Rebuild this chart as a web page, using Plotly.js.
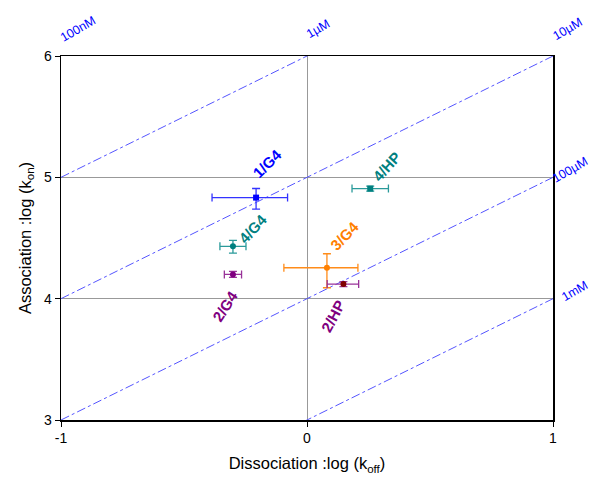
<!DOCTYPE html>
<html><head><meta charset="utf-8">
<script src="https://cdn.plot.ly/plotly-3.0.1.min.js"></script>
<style>html,body{margin:0;padding:0;background:#fff}#chart{width:593px;height:478px}</style>
</head><body><div id="chart"></div>
<script>
// Complexes
const names   = ['1/G4', '4/HP', '4/G4', '3/G4', '2/G4', '2/HP'];
const logKoff = [-0.207, 0.257, -0.301, 0.081, -0.301, 0.148];
const logKon  = [4.833, 4.907, 4.431, 4.255, 4.200, 4.120];
const xErrPlus  = [0.128, 0.074, 0.053, 0.126, 0.035, 0.062];
const xErrMinus = [0.179, 0.074, 0.053, 0.175, 0.035, 0.066];
const yErrPlus  = [0.075, 0.020, 0.050, 0.115, 0.025, 0.020];
const yErrMinus = [0.095, 0.020, 0.055, 0.165, 0.025, 0.020];
const markerColors = ['#0000ff', '#008080', '#008080', '#ff8000', '#800080', '#800000'];
const barColors    = ['#3333ff', '#2a9a9a', '#2a9a9a', '#ff8c1a', '#993399', '#993399'];
const markerSymbols = ['square', 'square', 'circle', 'circle', 'circle', 'circle'];
const labelColors = ['#0000ff', '#008080', '#008080', '#ff8000', '#800080', '#800080'];
// label positions (data coords) and angles
const labelX = [-0.161, 0.324, -0.22, 0.154, -0.333, 0.106];
const labelY = [5.11, 5.09, 4.58, 4.52, 3.933, 3.85];
const labelAngle = [-45, -48, -47, -46, -57, -62];

// iso-affinity lines: log(kon) = log(koff) + offset
const kdOffsets = [6, 5, 4, 3];
const kdLabels = ['100nM', '1\u00b5M', '10\u00b5M', '100\u00b5M', '1mM'];
const kdLabelX = [-0.93, 0.045, 1.06, 1.07, 1.09];
const kdLabelY = [6.22, 6.22, 6.22, 5.06, 4.06];

const xRange = [-1, 1], yRange = [3, 6];
const toPaperX = v => (v - xRange[0]) / (xRange[1] - xRange[0]);
const toPaperY = v => (v - yRange[0]) / (yRange[1] - yRange[0]);

const FONT = 'Arial, Liberation Sans, sans-serif';
const traces = [];
kdOffsets.forEach(c => {
  traces.push({
    x: [-1, 1], y: [-1 + c, 1 + c], mode: 'lines', type: 'scatter',
    line: {color: '#5555ff', width: 1, dash: 'dashdot'}, hoverinfo: 'skip', showlegend: false
  });
});
names.forEach((n, i) => {
  traces.push({
    x: [logKoff[i]], y: [logKon[i]], mode: 'markers', type: 'scatter', name: n, showlegend: false,
    marker: {color: markerColors[i], size: 6, symbol: markerSymbols[i]},
    error_x: {type: 'data', symmetric: false, array: [xErrPlus[i]], arrayminus: [xErrMinus[i]], color: barColors[i], thickness: 1.3, width: 4},
    error_y: {type: 'data', symmetric: false, array: [yErrPlus[i]], arrayminus: [yErrMinus[i]], color: barColors[i], thickness: 1.3, width: 4}
  });
});

const annotations = [];
names.forEach((n, i) => {
  annotations.push({x: labelX[i], y: labelY[i], xref: 'x', yref: 'y', xanchor: 'center', yanchor: 'middle',
    text: '<b>' + n + '</b>', showarrow: false,
    textangle: labelAngle[i], font: {family: FONT, size: 15, color: labelColors[i]}});
});
kdLabels.forEach((t, i) => {
  annotations.push({x: toPaperX(kdLabelX[i]), y: toPaperY(kdLabelY[i]), xref: 'paper', yref: 'paper',
    xanchor: 'center', yanchor: 'middle', text: t, showarrow: false,
    textangle: -30, font: {family: FONT, size: 12.5, color: '#0000ff'}});
});

const layout = {
  width: 593, height: 478,
  margin: {l: 61, r: 40, t: 56, b: 58},
  paper_bgcolor: '#fff', plot_bgcolor: '#fff',
  font: {family: FONT, size: 14, color: '#000'},
  xaxis: {range: xRange, tickvals: [-1, 0, 1], ticktext: ['-1', '0', '1'], showgrid: true, gridcolor: '#999', gridwidth: 1,
    zeroline: false, showline: true, linecolor: '#000', linewidth: 1.5, mirror: true, ticks: 'outside', ticklen: 5, tickcolor: '#000',
    tickfont: {size: 14},
    title: {text: 'Dissociation :log (k<sub>off</sub>)', font: {size: 16.5}, standoff: 12}},
  yaxis: {range: yRange, tickvals: [3, 4, 5, 6], showgrid: true, gridcolor: '#999', gridwidth: 1,
    zeroline: false, showline: true, linecolor: '#000', linewidth: 1.5, mirror: true, ticks: 'outside', ticklen: 5, tickcolor: '#000',
    tickfont: {size: 14},
    title: {text: 'Association :log (k<sub>on</sub>)', font: {size: 16.5}, standoff: 8}},
  annotations: annotations
};
Plotly.newPlot('chart', traces, layout, {displayModeBar: false, staticPlot: true});
</script></body></html>
